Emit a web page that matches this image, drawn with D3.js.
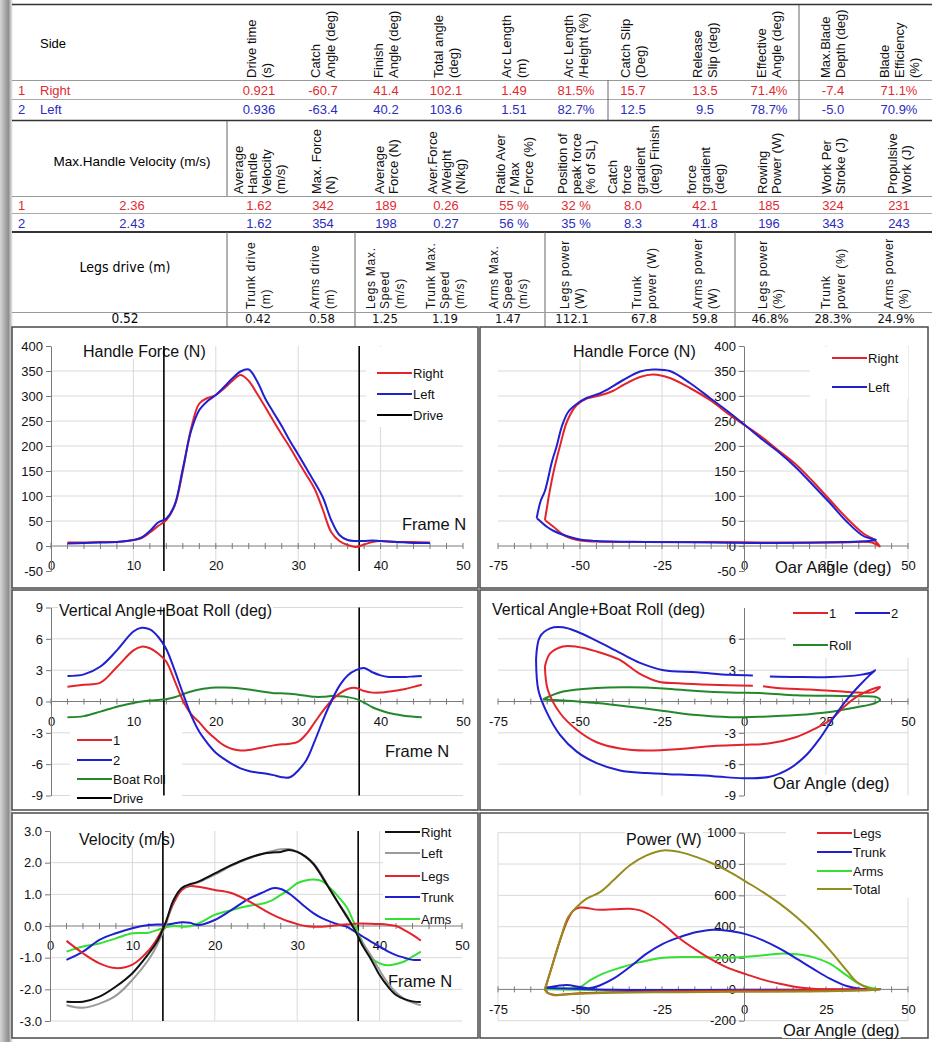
<!DOCTYPE html>
<html>
<head>
<meta charset="utf-8">
<script src="https://cdn.jsdelivr.net/npm/d3@7"></script>
<style>
body { margin: 0; background: #fff; }
svg { display: block; font-family: 'Liberation Sans', Arial, sans-serif; }
</style>
</head>
<body>
<script>
// ---- table data ----
const sideNames = ['Right', 'Left']
const headers1 = [['Drive time', '(s)'], ['Catch', 'Angle (deg)'], ['Finish', 'Angle (deg)'], ['Total angle', '(deg)'],
	['Arc Length', '(m)'], ['Arc Length', '/Height (%)'], ['Catch Slip', '(Deg)'], ['Release', 'Slip (deg)'],
	['Effective', 'Angle (deg)'], ['Max.Blade', 'Depth (deg)'], ['Blade', 'Efficiency', '(%)']]
const table1Right = ['0.921', '-60.7', '41.4', '102.1', '1.49', '81.5%', '15.7', '13.5', '71.4%', '-7.4', '71.1%']
const table1Left = ['0.936', '-63.4', '40.2', '103.6', '1.51', '82.7%', '12.5', '9.5', '78.7%', '-5.0', '70.9%']

const headers2 = [['Average', 'Handle', 'Velocity', '(m/s)'], ['Max. Force', '(N)'], ['Average', 'Force (N)'],
	['Aver.Force', '/Weight', '(N/kg)'], ['Ratio Aver', '/ Max', 'Force (%)'], ['Position of', 'peak force', '(% of SL)'],
	['Catch', 'force', 'gradient', '(deg) Finish'], ['force', 'gradient', '(deg)'], ['Rowing', 'Power (W)'],
	['Work Per', 'Stroke (J)'], ['Propulsive', 'Work (J)']]
const maxHandleVelocity = ['2.36', '2.43']
const table2Right = ['1.62', '342', '189', '0.26', '55 %', '32 %', '8.0', '42.1', '185', '324', '231']
const table2Left = ['1.62', '354', '198', '0.27', '56 %', '35 %', '8.3', '41.8', '196', '343', '243']

const headers3 = [['Trunk drive', '(m)'], ['Arms drive', '(m)'], ['Legs Max.', 'Speed', '(m/s)'], ['Trunk Max.', 'Speed', '(m/s)'],
	['Arms Max.', 'Speed', '(m/s)'], ['Legs power', '(W)'], ['Trunk', 'power (W)'], ['Arms power', '(W)'],
	['Legs power', '(%)'], ['Trunk', 'power (%)'], ['Arms power', '(%)']]
const legsDrive = '0.52'
const table3Values = ['0.42', '0.58', '1.25', '1.19', '1.47', '112.1', '67.8', '59.8', '46.8%', '28.3%', '24.9%']

// ---- chart data ----
const driveFrames = [13.7, 37.4]

const frameForce = [2, 4, 6, 8, 10, 11, 12, 13, 14, 15, 16, 17, 18, 19, 20, 21, 22, 23, 24, 25, 26, 27, 28, 29, 30, 31, 32, 33, 34, 35, 36, 37, 38, 39, 40, 42, 44, 46]
const forceRight = [7, 7, 8, 8, 12, 16, 27, 40, 52, 80, 150, 235, 285, 296, 302, 315, 330, 342, 330, 305, 278, 250, 223, 197, 169, 142, 114, 72, 28, 10, 2, -2, 3, 8, 10, 8, 8, 7]
const forceLeft = [5, 6, 7, 8, 12, 17, 30, 47, 55, 82, 155, 230, 272, 290, 302, 318, 335, 349, 353, 330, 295, 267, 240, 210, 183, 155, 127, 97, 52, 22, 12, 10, 10, 11, 10, 8, 6, 6]

// [oar angle, force]
const loopForceRight = [[-60.7, 52], [-60, 80], [-59.5, 100], [-58, 150], [-56.1, 200], [-53.9, 250], [-51, 282], [-48, 295], [-44, 301], [-40, 310],
	[-36.8, 322], [-31.7, 338], [-27.7, 343], [-22.6, 336], [-16.5, 316], [-10.4, 292], [-4.3, 262], [0.8, 239], [5.8, 216], [10.9, 189],
	[16, 162], [21, 129], [26.2, 92], [31.3, 56], [36.4, 25], [39.5, 13], [41.4, -1], [39, 7], [30, 7], [10, 7], [-10, 8], [-30, 8],
	[-45, 9], [-50, 11], [-55, 22], [-58, 38], [-60.7, 52]]
const loopForceLeft = [[-63.2, 56], [-62, 90], [-60.7, 110], [-58.5, 170], [-57.1, 200], [-55.5, 240], [-53.6, 268], [-51, 284], [-48, 296], [-44, 305],
	[-41.9, 312], [-36.8, 332], [-31.7, 349], [-27.7, 353], [-22.6, 350], [-16.5, 326], [-10.4, 296], [-4.3, 266], [0.8, 239], [5.8, 212],
	[10.9, 186], [16, 156], [21, 122], [26.2, 86], [31.3, 49], [36.4, 20], [40.2, 12], [38, 10], [30, 8], [10, 6], [-10, 7], [-30, 8],
	[-45, 10], [-50, 13], [-55, 22], [-58, 30], [-60, 38], [-63.2, 56]]

const frameAngle = [2, 4, 6, 8, 10, 11, 12, 13, 14, 15, 16, 17, 18, 19, 20, 21, 22, 23, 24, 25, 26, 27, 28, 29, 30, 31, 32, 33, 34, 35, 36, 37, 38, 39, 40, 41, 42, 43, 44, 45]
const vertRight = [1.42, 1.6, 1.8, 3.3, 4.9, 5.25, 5.1, 4.6, 3.8, 2.0, 0.1, -1.2, -2.0, -2.9, -3.6, -4.2, -4.55, -4.7, -4.65, -4.5, -4.35, -4.2, -4.1, -4.05, -3.85, -3.1, -2.0, -0.9, 0.05, 0.75, 1.2, 1.3, 1.0, 0.85, 0.85, 0.95, 1.05, 1.2, 1.4, 1.6]
const vertLeft = [2.45, 2.6, 3.35, 4.9, 6.7, 7.05, 6.9, 6.2, 5.0, 3.0, 0.8, -1.3, -2.9, -4.0, -4.9, -5.5, -6.0, -6.4, -6.65, -6.8, -6.9, -7.05, -7.25, -7.25, -6.6, -5.6, -3.8, -1.8, 0.0, 1.5, 2.5, 3.0, 3.2, 2.8, 2.5, 2.35, 2.35, 2.35, 2.4, 2.45]
const boatRoll = [-1.5, -1.4, -0.97, -0.5, -0.15, 0.0, 0.1, 0.15, 0.22, 0.4, 0.7, 0.95, 1.15, 1.27, 1.33, 1.35, 1.32, 1.25, 1.15, 1.02, 0.9, 0.8, 0.78, 0.75, 0.65, 0.55, 0.45, 0.45, 0.52, 0.5, 0.42, 0.25, -0.1, -0.55, -0.85, -1.1, -1.25, -1.38, -1.45, -1.5]

// [oar angle, vertical angle]; null = gap in the trace
const loopVertRight = [[-60.7, 3.35], [-59.8, 1.1], [-56.1, -1.1], [-51, -2.7], [-44.9, -3.9], [-37.8, -4.5], [-29.7, -4.7], [-19.5, -4.55], [-9.4, -4.25],
	[-0.2, -4.15], [7.9, -4.0], [16, -3.4], [21, -2.7], [26.2, -1.8], [30.2, -0.6], [34.4, 0.46], [38.4, 1.1], [41.5, 1.4], [39.4, 0.9], [35, 0.85],
	[30, 0.95], [25, 1.05], [20, 1.15], [10, 1.3], [5.8, 1.45], null, [2.7, 1.5], [-10, 1.6], [-20, 1.75], [-26, 1.9], [-32, 2.7], [-38, 4.0],
	[-45, 4.8], [-51, 5.25], [-55.2, 5.27], [-59.1, 4.6], [-60.7, 3.35]]
const loopVertLeft = [[-63.4, 4.0], [-62.7, 1.1], [-60.2, -1.0], [-56.1, -3.2], [-51, -4.8], [-44.9, -5.9], [-37.8, -6.6], [-29.7, -6.85], [-19.5, -7.0],
	[-9.4, -7.15], [-0.2, -7.35], [7.9, -7.2], [14, -6.4], [19.1, -5.1], [23.2, -3.5], [27.2, -1.6], [31.3, 0.15], [35.4, 1.6], [38.4, 2.55],
	[40, 3.0], [39, 2.8], [35.4, 2.55], [26.2, 2.35], [16, 2.35], [7.9, 2.4], null, [2.7, 2.5], [-4.3, 2.55], [-14.4, 2.8], [-24.5, 3.0],
	[-31.7, 3.7], [-37.8, 4.65], [-44.9, 5.8], [-51, 6.7], [-55.2, 7.1], [-59.1, 7.0], [-62.2, 6.2], [-63.4, 4.0]]
const loopRoll = [[-61.3, 0.2], [-55.2, 0.95], [-44.9, 1.3], [-34.7, 1.36], [-24.5, 1.25], [-14.4, 1.0], [-4.3, 0.85], [5.8, 0.8], [16, 0.6],
	[26.2, 0.55], [34.4, 0.5], [40, 0.45], [41.5, 0.15], [39.5, -0.2], [34.4, -0.55], [26.2, -1.0], [16, -1.3], [5.8, -1.45], [-4.3, -1.5],
	[-14.4, -1.3], [-24.5, -0.9], [-34.7, -0.5], [-44.9, -0.15], [-55.2, 0.1], [-61.3, 0.2]]

const frameVel = [2, 4, 6, 8, 10, 12, 13, 14, 15, 16, 17, 18, 20, 22, 24, 26, 27, 28, 29, 30, 31, 32, 33, 34, 35, 36, 37, 38, 39, 40, 41, 42, 43, 44, 45]
const velRight = [-2.39, -2.39, -2.23, -1.91, -1.49, -0.86, -0.49, 0.08, 0.82, 1.2, 1.32, 1.4, 1.66, 1.92, 2.14, 2.29, 2.32, 2.34, 2.4, 2.34, 2.19, 1.95, 1.56, 1.14, 0.72, 0.3, -0.13, -0.65, -1.07, -1.55, -1.91, -2.18, -2.31, -2.38, -2.4]
const velLeft = [-2.5, -2.58, -2.45, -2.2, -1.7, -1.05, -0.6, 0.0, 0.8, 1.2, 1.3, 1.38, 1.62, 1.9, 2.12, 2.3, 2.37, 2.42, 2.43, 2.35, 2.2, 1.98, 1.6, 1.15, 0.72, 0.35, -0.12, -0.55, -0.95, -1.4, -1.8, -2.1, -2.3, -2.42, -2.5]
const velLegs = [-0.47, -0.86, -1.18, -1.33, -1.22, -0.76, -0.4, 0.08, 0.72, 1.14, 1.26, 1.24, 1.14, 1.04, 0.8, 0.5, 0.36, 0.24, 0.14, 0.06, 0.0, -0.02, -0.02, 0.0, 0.03, 0.05, 0.07, 0.08, 0.07, 0.06, 0.04, 0.0, -0.13, -0.28, -0.46]
const velTrunk = [-1.07, -0.81, -0.44, -0.23, -0.07, 0.03, 0.05, 0.04, 0.08, 0.12, 0.1, 0.03, 0.19, 0.5, 0.84, 1.08, 1.19, 1.17, 1.03, 0.82, 0.6, 0.4, 0.25, 0.14, 0.05, -0.02, -0.18, -0.34, -0.5, -0.65, -0.8, -0.92, -1.0, -1.07, -1.07]
const velArms = [-0.81, -0.65, -0.55, -0.39, -0.23, -0.21, -0.13, -0.04, 0.0, -0.02, -0.01, 0.08, 0.35, 0.5, 0.63, 0.72, 0.82, 0.98, 1.15, 1.35, 1.44, 1.47, 1.42, 1.2, 0.92, 0.6, 0.03, -0.55, -1.0, -1.18, -1.24, -1.2, -1.12, -0.97, -0.81]

// [oar angle, power]
const powerLegs = [[-60.7, 0], [-58.6, 143], [-56.1, 313], [-53.6, 450], [-52, 504], [-50, 522], [-48, 520], [-44.9, 509], [-39.8, 511], [-34.8, 515],
	[-31.7, 504], [-27.7, 462], [-23.6, 398], [-19.5, 323], [-14.4, 249], [-9.4, 185], [-4.3, 132], [0.8, 96], [5.8, 62], [10.9, 36], [16, 15],
	[21, 4], [26.2, 0], [41.5, 0], [20, -4], [0, -8], [-20, -12], [-40, -18], [-50, -25], [-55, -32], [-58, -35], [-60, -20], [-60.7, 0]]
const powerTrunk = [[-60.7, 10], [-57, 22], [-54, 28], [-50, 15], [-47, 8], [-44, 25], [-39.8, 68], [-34.8, 143], [-29.7, 228], [-24.6, 292],
	[-19.5, 334], [-14.4, 366], [-9.4, 381], [-4.3, 372], [0.8, 351], [5.8, 313], [10.9, 260], [16, 196], [21, 132], [26.2, 68], [31.3, 21],
	[35.4, 4], [39.5, 0], [41.5, 0], [20, -2], [0, -3], [-40, -3], [-60.7, 10]]
const powerArms = [[-60.7, 0], [-55, 5], [-50, 15], [-47, 57], [-43, 100], [-37.8, 138], [-31.7, 174], [-24.6, 202], [-14.4, 206], [-4.3, 202],
	[5.8, 217], [10.9, 228], [16, 224], [21, 206], [26.2, 164], [31.3, 89], [35.4, 32], [39.5, 6], [41.5, 0], [20, -5], [0, -8], [-40, -6], [-60.7, 0]]
const powerTotal = [[-60.7, 0], [-58.6, 143], [-56.1, 313], [-53.6, 462], [-51, 526], [-48, 579], [-43.9, 621], [-39.8, 696], [-34.8, 792],
	[-29.7, 855], [-24.6, 887], [-19.5, 876], [-14.4, 844], [-9.4, 802], [-4.3, 749], [0.8, 685], [5.8, 621], [10.9, 547], [16, 462], [21, 366],
	[26.2, 249], [31.3, 121], [34.4, 47], [38.4, 6], [41.5, 0], [35, -8], [20, -14], [0, -16], [-20, -18], [-40, -22], [-50, -28], [-55, -34],
	[-58, -37], [-60, -22], [-60.7, 0]]

// ---- styles ----
const red = '#e3242b', blue = '#2020d0', green = '#23882a', lime = '#33e033', grey = '#9a9a9a', olive = '#958c1e'
const txtRed = '#df2a30', txtBlue = '#2c2cbf'
const narrow = "'Liberation Sans Narrow', 'DejaVu Sans Condensed', 'Liberation Sans', sans-serif"

const svg = d3.select('body').append('svg').attr('width', 932).attr('height', 1042)

// grey strip at the left edge
const grad = svg.append('defs').append('linearGradient').attr('id', 'strip')
grad.append('stop').attr('offset', '0%').attr('stop-color', '#d6d6d6')
grad.append('stop').attr('offset', '65%').attr('stop-color', '#8e8e8e')
grad.append('stop').attr('offset', '100%').attr('stop-color', '#ffffff')
svg.append('rect').attr('width', 13).attr('height', 1042).attr('fill', 'url(#strip)')

// ---- tables ----
const col12 = [259, 323, 386, 446, 514, 576, 633, 705, 769, 833, 899]
const col3 = [258, 322, 385, 445, 508, 572, 644, 705, 770, 833, 896]

function hline(y, color, w) {
	svg.append('line').attr('x1', 12).attr('x2', 932).attr('y1', y).attr('y2', y).attr('stroke', color).attr('stroke-width', w)
}
function vline(x, y1, y2) {
	svg.append('line').attr('x1', x).attr('x2', x).attr('y1', y1).attr('y2', y2).attr('stroke', '#666').attr('stroke-width', 1)
}
function headers(list, cols, bottom, size, lh, spacing = 0) {
	list.forEach((lines, i) => {
		const n = lines.length
		svg.append('g').selectAll('text').data(lines).join('text')
			.attr('transform', (_, j) => `translate(${cols[i] - (n - 1) * lh / 2 + j * lh + size * 0.36},${bottom}) rotate(-90)`)
			.attr('font-size', size)
			.attr('letter-spacing', spacing)
			.attr('fill', '#111')
			.text(d => d)
	})
}
function valueRow(vals, cols, y, color, family) {
	svg.append('g').selectAll('text').data(vals).join('text')
		.attr('x', (_, i) => cols[i]).attr('y', y)
		.attr('text-anchor', 'middle').attr('font-size', 13).attr('fill', color)
		.attr('font-family', family || null)
		.text(d => d)
}
function rowLabel(num, name, y, color, nameX) {
	svg.append('text').attr('x', 18).attr('y', y).attr('font-size', 13).attr('fill', color).text(num)
	svg.append('text').attr('x', nameX).attr('y', y).attr('font-size', 13).attr('fill', color)
		.attr('text-anchor', nameX > 60 ? 'middle' : 'start').text(name)
}

// table 1
hline(4.5, '#333', 1.5)
svg.append('text').attr('x', 40).attr('y', 48).attr('font-size', 13).text('Side')
headers(headers1, col12, 78, 13, 15)
hline(80.5, '#999', 1)
rowLabel('1', sideNames[0], 95, txtRed, 40)
valueRow(table1Right, col12, 95, txtRed)
hline(99.5, '#aaa', 1)
rowLabel('2', sideNames[1], 114, txtBlue, 40)
valueRow(table1Left, col12, 114, txtBlue)
vline(608, 80, 120)
vline(799, 5, 120)

// table 2
hline(120.5, '#333', 1.5)
vline(227, 121, 196)
svg.append('text').attr('x', 132).attr('y', 166).attr('font-size', 13.5).attr('text-anchor', 'middle').text('Max.Handle Velocity (m/s)')
headers(headers2, col12, 194, 13, 14)
hline(196.5, '#999', 1)
rowLabel('1', maxHandleVelocity[0], 210, txtRed, 132)
valueRow(table2Right, col12, 210, txtRed)
hline(213.5, '#aaa', 1)
rowLabel('2', maxHandleVelocity[1], 228, txtBlue, 132)
valueRow(table2Left, col12, 228, txtBlue)

// table 3
hline(232, '#333', 2)
;[227, 355, 545, 735].forEach(x => vline(x, 232, 327))
svg.append('text').attr('x', 125).attr('y', 272).attr('font-size', 14).attr('text-anchor', 'middle')
	.attr('font-family', narrow).text('Legs drive (m)')
headers(headers3, col3, 309, 12, 14.5, 0.7)
hline(312.5, '#999', 1)
svg.append('text').attr('x', 125).attr('y', 323).attr('font-size', 13.5).attr('text-anchor', 'middle')
	.attr('font-family', narrow).text(legsDrive)
valueRow(table3Values, col3, 323, '#111', narrow)

// ---- chart panels ----
;[[12, 327, 466, 261], [480, 327, 448, 261], [12, 590, 466, 220], [480, 590, 448, 220], [12, 813, 466, 225], [480, 813, 448, 225]]
	.forEach(([x, y, w, h]) => svg.append('rect').attr('x', x).attr('y', y).attr('width', w).attr('height', h)
		.attr('fill', 'none').attr('stroke', '#4a4a4a').attr('stroke-width', 1.5))

function textWithBg(g, x, y, t, size) {
	const bg = g.append('rect').attr('fill', '#fff')
	const tx = g.append('text').attr('x', x).attr('y', y).attr('font-size', size).attr('fill', '#111').text(t)
	const b = tx.node().getBBox()
	bg.attr('x', b.x - 1).attr('y', b.y + 1).attr('width', b.width + 2).attr('height', b.height - 2)
}

function chart(c) {
	const x = d3.scaleLinear().domain(c.xd).range(c.xr)
	const y = d3.scaleLinear().domain(c.yd).range(c.yr)
	const g = svg.append('g')
	const y0 = y(0)

	g.selectAll('line.hg').data(c.hGrid).join('line').classed('hg', true)
		.attr('x1', c.xr[0]).attr('x2', c.xr[1]).attr('y1', y).attr('y2', y)
		.attr('stroke', '#d9d9d9')
	g.selectAll('line.vg').data(c.vGrid).join('line').classed('vg', true)
		.attr('x1', x).attr('x2', x).attr('y1', c.yr[0]).attr('y2', c.yr[1])
		.attr('stroke', '#d9d9d9')

	// legend background
	const [lx, ly, lw, lh] = c.legend.box
	g.append('rect').attr('x', lx).attr('y', ly).attr('width', lw).attr('height', lh).attr('fill', '#fff')

	textWithBg(g, c.title[1], c.title[2], c.title[0], 16)
	textWithBg(g, c.axisTitle[1], c.axisTitle[2], c.axisTitle[0], 16.5)

	// x axis
	g.append('line').attr('x1', c.xr[0]).attr('x2', c.xr[1]).attr('y1', y0).attr('y2', y0).attr('stroke', '#7a7a7a')
	g.selectAll('line.mt').data(c.minor).join('line').classed('mt', true)
		.attr('x1', x).attr('x2', x).attr('y1', y0 - 3).attr('y2', y0 + 3)
		.attr('stroke', '#7a7a7a')
	g.append('g').attr('transform', `translate(0,${y0})`)
		.call(d3.axisBottom(x).tickValues(c.xTicks).tickSize(0).tickPadding(15).tickFormat(d => String(d)))
		.call(a => a.select('.domain').remove())
		.attr('font-size', 13).attr('font-family', null).attr('color', '#111')

	// y axis
	g.append('g').attr('transform', `translate(${x(0)},0)`)
		.call(d3.axisLeft(y).tickValues(c.yTicks).tickSize(5).tickSizeOuter(0).tickPadding(3).tickFormat(c.yFmt))
		.attr('font-size', 13).attr('font-family', null).attr('color', '#111')
		.call(a => a.selectAll('.domain, line').attr('stroke', '#7a7a7a'))

	if (c.drive) {
		g.selectAll('line.drive').data(driveFrames).join('line').classed('drive', true)
			.attr('x1', x).attr('x2', x).attr('y1', c.yr[0]).attr('y2', c.yr[1])
			.attr('stroke', '#000').attr('stroke-width', 1.6)
	}

	const line = d3.line().defined(d => d != null).x(d => x(d[0])).y(d => y(d[1])).curve(d3.curveCatmullRom)
	g.selectAll('path.series').data(c.series).join('path').classed('series', true)
		.attr('fill', 'none').attr('stroke', d => d.color).attr('stroke-width', 2)
		.attr('stroke-linejoin', 'round')
		.attr('d', d => line(d.data))

	const items = g.append('g').selectAll('g').data(c.legend.items).join('g')
		.attr('transform', d => `translate(${d[2]},${d[3]})`)
	items.append('line').attr('x2', 35).attr('stroke', d => d[1]).attr('stroke-width', 2)
	items.append('text').attr('x', 36).attr('dy', '0.35em').attr('font-size', 13).attr('fill', '#111').text(d => d[0])
}

const frameChart = { xd: [0, 50], xTicks: [0, 10, 20, 30, 40, 50], minor: d3.range(0, 51, 2), drive: true }
const angleChart = { xd: [-75, 50], xr: [498, 908], xTicks: [-75, -50, -25, 0, 25, 50], minor: d3.range(-75, 51, 5), drive: false }
const intFmt = d => String(d)

chart({
	...frameChart, xr: [51, 463], yd: [-50, 400], yr: [571, 346],
	yTicks: d3.range(-50, 401, 50), yFmt: intFmt, hGrid: d3.range(50, 351, 50), vGrid: [10, 20, 30, 40],
	title: ['Handle Force (N)', 83, 357], axisTitle: ['Frame N', 402, 530],
	series: [
		{ color: red, data: d3.zip(frameForce, forceRight) },
		{ color: blue, data: d3.zip(frameForce, forceLeft) },
	],
	legend: { box: [366, 347, 99, 80], items: [[sideNames[0], red, 377, 373], [sideNames[1], blue, 377, 394], ['Drive', '#000', 377, 415]] },
})

chart({
	...angleChart, yd: [-50, 400], yr: [571, 346],
	yTicks: d3.range(-50, 401, 50), yFmt: intFmt, hGrid: d3.range(50, 351, 50), vGrid: [-50, -25, 25, 50],
	title: ['Handle Force (N)', 573, 357], axisTitle: ['Oar Angle (deg)', 775, 573],
	series: [
		{ color: red, data: loopForceRight },
		{ color: blue, data: loopForceLeft },
	],
	legend: { box: [810, 347, 98, 52], items: [[sideNames[0], red, 832, 358], [sideNames[1], blue, 832, 387]] },
})

chart({
	...frameChart, xr: [51, 463], yd: [-9, 9], yr: [795.5, 607.5],
	yTicks: d3.range(-9, 10, 3), yFmt: intFmt, hGrid: [-9, -6, -3, 3, 6, 9], vGrid: [],
	title: ['Vertical Angle+Boat Roll (deg)', 59, 616], axisTitle: ['Frame N', 385, 757],
	series: [
		{ color: green, data: d3.zip(frameAngle, boatRoll) },
		{ color: red, data: d3.zip(frameAngle, vertRight) },
		{ color: blue, data: d3.zip(frameAngle, vertLeft) },
	],
	legend: { box: [70, 729, 112, 78], items: [['1', red, 77, 740], ['2', blue, 77, 760], ['Boat Roll', green, 77, 779], ['Drive', '#000', 77, 798]] },
})

chart({
	...angleChart, yd: [-9, 9], yr: [795.5, 607.5],
	yTicks: [-9, -6, -3, 3, 6], yFmt: intFmt, hGrid: [-6, -3, 3, 6], vGrid: [-50, -25, 25, 50],
	title: ['Vertical Angle+Boat Roll (deg)', 492, 615], axisTitle: ['Oar Angle (deg)', 773, 789],
	series: [
		{ color: green, data: loopRoll },
		{ color: red, data: loopVertRight },
		{ color: blue, data: loopVertLeft },
	],
	legend: { box: [786, 600, 124, 58], items: [['1', red, 793, 613], ['2', blue, 855, 613], ['Roll', green, 793, 645]] },
})

chart({
	...frameChart, xr: [50, 462], yd: [-3, 3], yr: [1021, 831],
	yTicks: d3.range(-3, 4, 1), yFmt: d => d.toFixed(1), hGrid: [-3, -2, -1, 1, 2], vGrid: [10, 20, 30, 40],
	title: ['Velocity (m/s)', 79, 845], axisTitle: ['Frame N', 388, 987],
	series: [
		{ color: lime, data: d3.zip(frameVel, velArms) },
		{ color: blue, data: d3.zip(frameVel, velTrunk) },
		{ color: red, data: d3.zip(frameVel, velLegs) },
		{ color: grey, data: d3.zip(frameVel, velLeft) },
		{ color: '#111', data: d3.zip(frameVel, velRight) },
	],
	legend: {
		box: [383, 822, 83, 104],
		items: [[sideNames[0], '#111', 385, 832], [sideNames[1], grey, 385, 853], ['Legs', red, 385, 876], ['Trunk', blue, 385, 897], ['Arms', lime, 385, 919]],
	},
})

chart({
	...angleChart, yd: [-200, 1000], yr: [1020.7, 832.7],
	yTicks: d3.range(-200, 1001, 200), yFmt: intFmt, hGrid: [-200, 200, 400, 600, 800, 1000], vGrid: [-75, -50, 50],
	title: ['Power (W)', 626, 845], axisTitle: ['Oar Angle (deg)', 783, 1036],
	series: [
		{ color: lime, data: powerArms },
		{ color: blue, data: powerTrunk },
		{ color: red, data: powerLegs },
		{ color: olive, data: powerTotal },
	],
	legend: {
		box: [786, 822, 124, 76],
		items: [['Legs', red, 817, 833], ['Trunk', blue, 817, 852], ['Arms', lime, 817, 871], ['Total', olive, 817, 889]],
	},
})
</script>
</body>
</html>
